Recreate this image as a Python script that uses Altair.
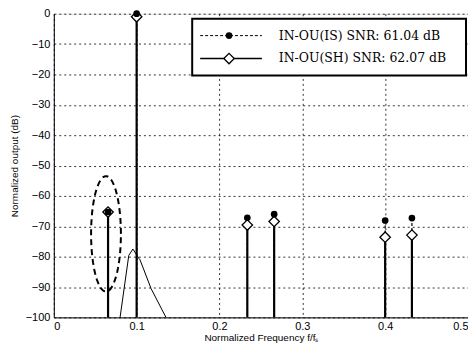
import altair as alt
import pandas as pd
import numpy as np

# ---- data ----
freq = [0.0655, 0.1, 0.2336, 0.266, 0.400, 0.4323]
db_is = [-65.3, 0.0, -67.2, -66.0, -68.1, -67.3]
db_sh = [-65.3, -1.0, -69.6, -68.4, -73.6, -72.9]

skirt_f = [0.080, 0.0905, 0.0955, 0.1025, 0.104, 0.1174, 0.1354]
skirt_db = [-100, -79.6, -77.5, -80.5, -81.0, -90.5, -100]

# dashed annotation ellipse (centre, radii in data units)
ell_cx, ell_cy, ell_rx, ell_ry = [0.063], [-72.5], [0.018], [19.0]

legend_labels = ["IN-OU(IS)   SNR: 61.04 dB", "IN-OU(SH) SNR: 62.07 dB"]

x_ticks = [0, 0.1, 0.2, 0.3, 0.4, 0.5]
y_ticks = [0, -10, -20, -30, -40, -50, -60, -70, -80, -90, -100]

# ---- tables ----
df_is = pd.DataFrame({"f": freq, "db": db_is, "base": -100})
df_sh = pd.DataFrame({"f": freq, "db": db_sh, "base": -100})
df_skirt = pd.DataFrame({"f": skirt_f, "db": skirt_db, "o": range(len(skirt_f))})
t = np.linspace(0, 2 * np.pi, 80)
df_ell = pd.DataFrame({
    "f": ell_cx[0] + ell_rx[0] * np.cos(t),
    "db": ell_cy[0] + ell_ry[0] * np.sin(t),
    "o": range(len(t)),
})

xs = alt.Scale(domain=[0, 0.5], nice=False, zero=False)
ys = alt.Scale(domain=[-100, 0], nice=False, zero=False)

xax = alt.Axis(values=x_ticks, format="~g", title="Normalized Frequency f/fₛ",
               grid=True, gridColor="black", gridDash=[2, 3], gridWidth=0.8,
               tickSize=0, labelPadding=3, labelFontSize=11, labelFont="Liberation Sans",
               labelOverlap=False,
               titleFontSize=10, titleFont="Liberation Sans", titleFontWeight="normal",
               titlePadding=1, domainColor="black", labelColor="black", titleColor="black")
yax = alt.Axis(values=y_ticks, title="Normalized output (dB)",
               grid=True, gridColor="black", gridDash=[2, 3], gridWidth=0.8,
               tickSize=0, labelPadding=4, labelFontSize=11, labelFont="Liberation Sans",
               labelOverlap=False,
               titleFontSize=10, titleFont="Liberation Sans", titleFontWeight="normal",
               titlePadding=6, domainColor="black", labelColor="black", titleColor="black")

X = lambda: alt.X("f:Q", scale=xs, axis=xax)
Y = lambda: alt.Y("db:Q", scale=ys, axis=yax)

stem_sh = alt.Chart(df_sh).mark_rule(color="black", strokeWidth=2.2).encode(
    x=X(), y=Y(), y2="base:Q")
stem_is = alt.Chart(df_is).mark_rule(color="black", strokeWidth=1.2, strokeDash=[3, 2]).encode(
    x=X(), y=Y(), y2="base:Q")

skirt = alt.Chart(df_skirt).mark_line(color="black", strokeWidth=1).encode(
    x=X(), y=Y(), order="o:Q")

ell = alt.Chart(df_ell).mark_line(color="black", strokeWidth=2, strokeDash=[6, 4]).encode(
    x=X(), y=Y(), order="o:Q")

pts_is = alt.Chart(df_is).mark_point(shape="circle", filled=True, color="black", size=45, opacity=1).encode(
    x=X(), y=Y())
pts_sh = alt.Chart(df_sh).mark_point(shape="diamond", filled=True, fill="white", stroke="black",
                                     strokeWidth=1.3, size=110, opacity=1).encode(
    x=X(), y=Y())

# ---- legend ----
one = pd.DataFrame({"a": [0]})
leg_box = alt.Chart(one).mark_rect(fill="white", stroke="black", strokeWidth=2).encode(
    x=alt.value(139), x2=alt.value(414), y=alt.value(5), y2=alt.value(62))
leg_l1 = alt.Chart(one).mark_rule(color="black", strokeWidth=1, strokeDash=[3, 2]).encode(
    x=alt.value(147), x2=alt.value(209), y=alt.value(22))
leg_l2 = alt.Chart(one).mark_rule(color="black", strokeWidth=1.3).encode(
    x=alt.value(147), x2=alt.value(209), y=alt.value(45))
leg_m1 = alt.Chart(one).mark_point(shape="circle", filled=True, color="black", size=45, opacity=1).encode(
    x=alt.value(176), y=alt.value(22))
leg_m2 = alt.Chart(one).mark_point(shape="diamond", filled=True, fill="white", stroke="black",
                                   strokeWidth=1.3, size=110, opacity=1).encode(
    x=alt.value(176), y=alt.value(45))
leg_t1 = alt.Chart(one).mark_text(text=legend_labels[0], align="left", baseline="middle",
                                  font="DejaVu Serif", fontSize=12.5, color="black").encode(
    x=alt.value(226), y=alt.value(22))
leg_t2 = alt.Chart(one).mark_text(text=legend_labels[1], align="left", baseline="middle",
                                  font="DejaVu Serif", fontSize=12.5, color="black").encode(
    x=alt.value(226), y=alt.value(45))

chart = alt.layer(
    skirt, ell, stem_sh, stem_is, pts_sh, pts_is,
    leg_box, leg_l1, leg_l2, leg_m1, leg_m2, leg_t1, leg_t2
).properties(
    width=416, height=305,
    autosize=alt.AutoSizeParams(type="none"),
    padding={"left": 46, "top": 5, "right": 0, "bottom": 28},
).configure_view(stroke="black", strokeWidth=1.2).configure(background="white")

chart.save("out.html", embed_options={"renderer": "svg", "actions": False})
